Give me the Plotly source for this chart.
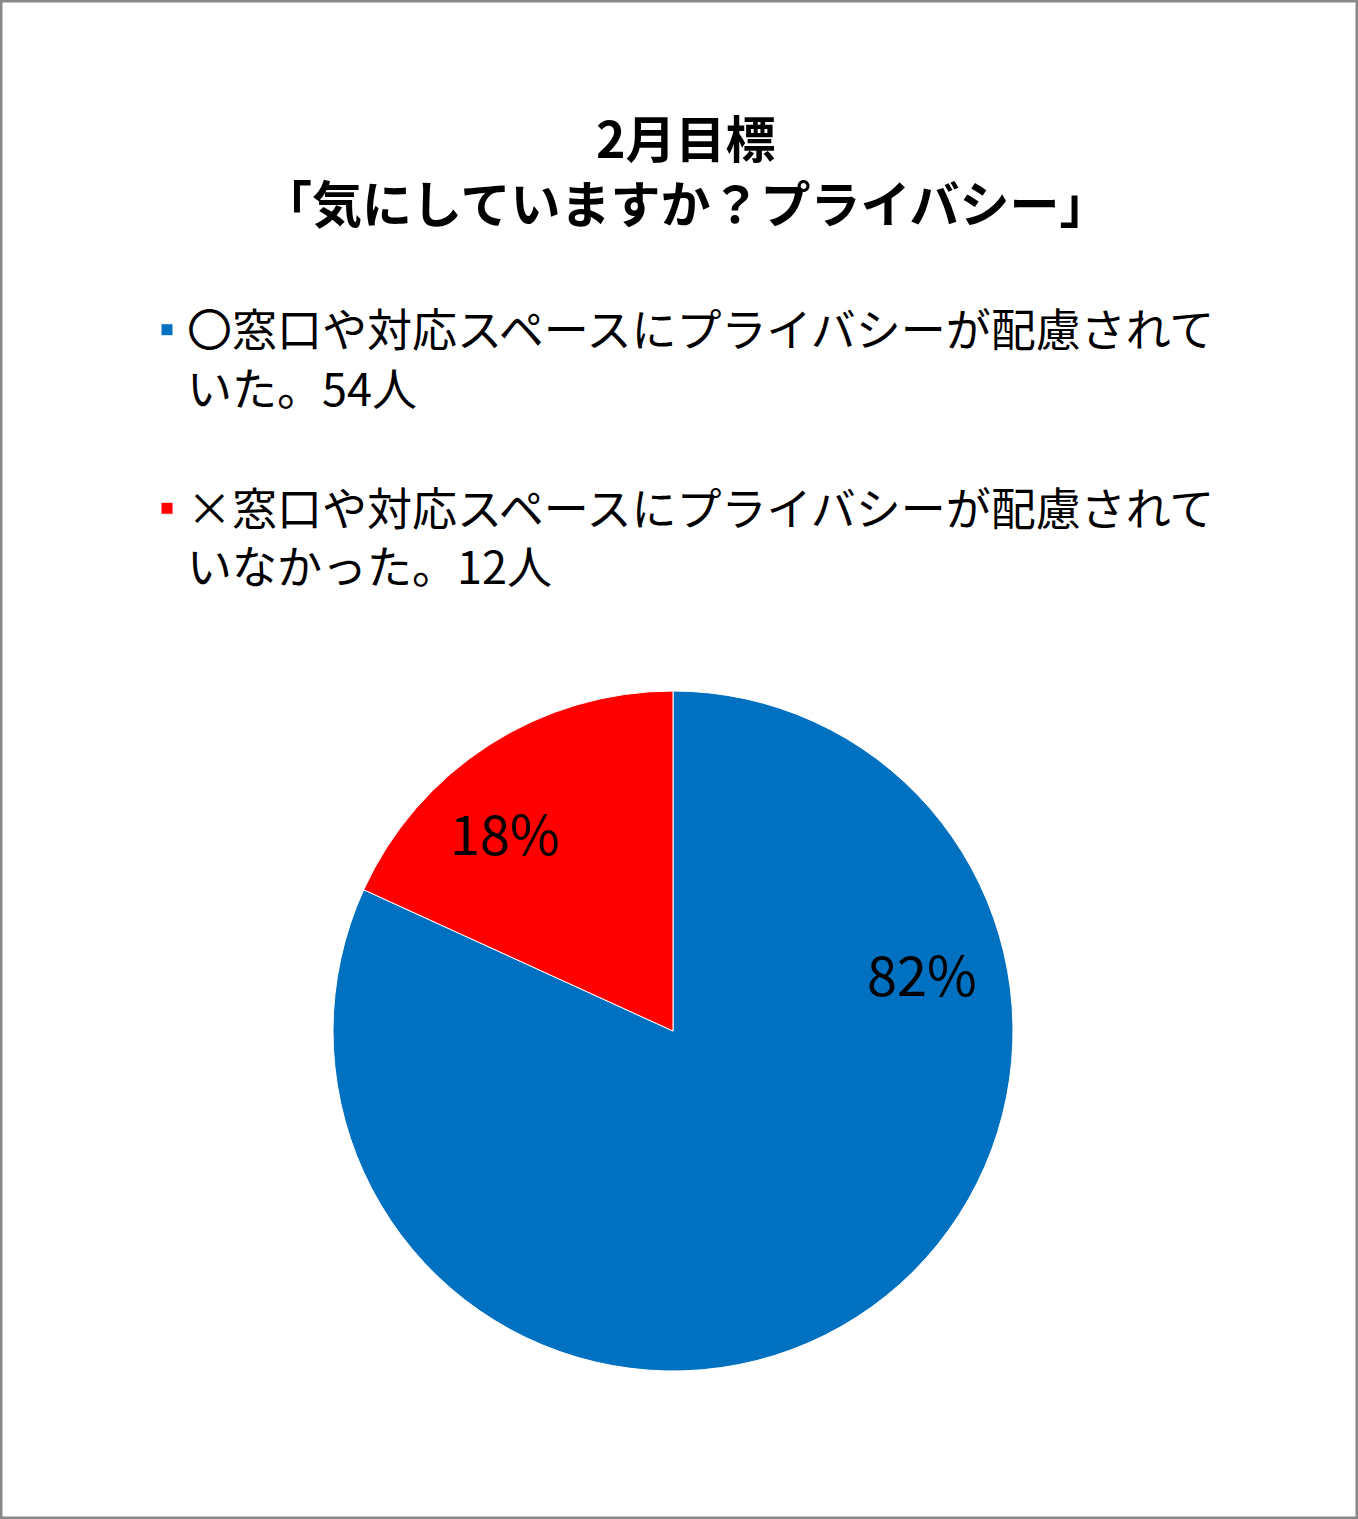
import plotly.graph_objects as go

# データ
labels = [
    "〇窓口や対応スペースにプライバシーが配慮されて<br>いた。54人<br> ",
    "×窓口や対応スペースにプライバシーが配慮されて<br>いなかった。12人",
]
counts = [54, 12]
colors = ["#0070C0", "#FF0000"]
title_text = "2月目標<br>「気にしていますか？プライバシー」"

FONT = "Noto Sans CJK JP"
W, H = 1358, 1519

fig = go.Figure()

fig.add_trace(go.Pie(
    labels=labels,
    values=counts,
    marker=dict(colors=colors, line=dict(color="white", width=1)),
    sort=False,
    direction="clockwise",
    rotation=0,
    textinfo="none",
    hoverinfo="label+percent",
    domain=dict(x=[333 / W, 1013 / W], y=[148 / H, 828 / H]),
))

# パーセント表示（Excel風の位置）
total = sum(counts)
pct_pos = [(922 / W, 1 - 972 / H), (505 / W, 1 - 832 / H)]
for v, (px, py) in zip(counts, pct_pos):
    fig.add_annotation(
        x=px, y=py, xref="paper", yref="paper",
        xanchor="center", yanchor="middle",
        text=f"{round(v / total * 100)}%",
        showarrow=False,
        font=dict(family=FONT, size=54, color="black"),
    )

# 外枠
fig.add_shape(
    type="rect", xref="paper", yref="paper",
    x0=0, y0=0, x1=1, y1=1,
    line=dict(color="#898989", width=5),
)

fig.update_layout(
    width=W,
    height=H,
    margin=dict(l=0, r=0, t=0, b=0),
    paper_bgcolor="white",
    plot_bgcolor="white",
    font=dict(family=FONT, color="black"),
    title=dict(
        text=f"<b>{title_text}</b>",
        x=0.505,
        xanchor="center",
        y=1 - 158 / H,
        yanchor="middle",
        font=dict(family=FONT, size=50, color="black"),
    ),
    showlegend=True,
    legend=dict(
        x=147 / W,
        y=1 - 294 / H,
        xanchor="left",
        yanchor="top",
        valign="top",
        font=dict(family=FONT, size=45, color="black"),
        bgcolor="rgba(0,0,0,0)",
        traceorder="normal",
    ),
)

fig.write_html(
    "out.html",
    config={"displayModeBar": False},
    post_script="document.body.style.margin='0';",
)
